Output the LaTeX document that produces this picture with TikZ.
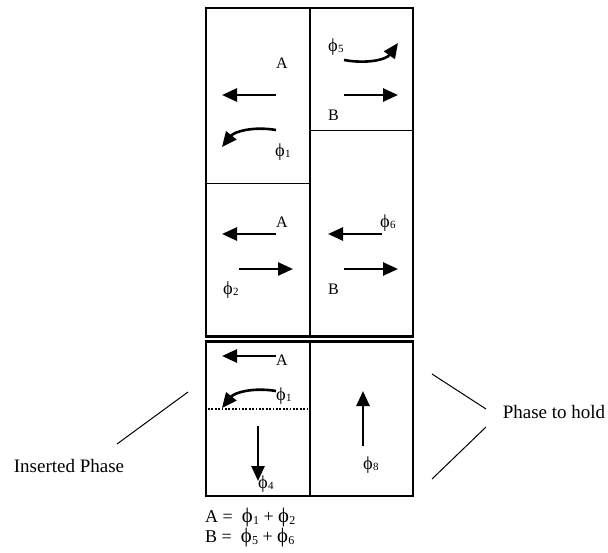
\documentclass[tikz,border=0pt]{standalone}
\usepackage{fontspec}
\usepackage{graphicx}
\setmainfont{Liberation Serif}
\usetikzlibrary{arrows.meta}
\newcommand\phs[1]{\scalebox{1.15}{ϕ}\kern0.3pt\raisebox{-0.2ex}{\fontsize{11}{11}\selectfont #1}}
\newcommand\phf[1]{\scalebox{1.15}{ϕ}\kern0.3pt\raisebox{-0.2ex}{\fontsize{12}{12}\selectfont #1}}
\begin{document}
\begin{tikzpicture}[x=1pt,y=-1pt,
  frame/.style={line width=2.6pt},
  sepline/.style={line width=1pt},
  arr/.style={line width=2.6pt,-{Triangle[length=15pt,width=13pt]}},
  lab/.style={font=\fontsize{16}{16}\selectfont,inner sep=0pt,anchor=west},
  big/.style={font=\fontsize{19}{19}\selectfont,inner sep=0pt},
  formula/.style={font=\fontsize{18}{18}\selectfont,inner sep=0pt,anchor=west},
  lead/.style={line width=1pt},
  dotline/.style={line width=2pt,dash pattern=on 1.7pt off 1.7pt}]
\useasboundingbox (0,0) rectangle (608,552);
% frames
\draw[frame] (206,8) rectangle (413,336.5);
\draw[frame] (310,8) -- (310,336.5);
\draw[frame] (206,341.5) rectangle (413,496);
\draw[frame] (310,341.5) -- (310,496);
\draw[sepline] (206,183) -- (310,183);
\draw[sepline] (310,130) -- (413,130);
% top-left box
\coordinate (a1s) at (276,95); \coordinate (a1e) at (222,95);
\draw[arr] (a1s) -- (a1e);
\coordinate (c1s) at (276,130); \coordinate (c1e) at (222,147);
\draw[arr] (c1s) .. controls (252,126) and (234,132) .. (c1e);
\node[lab] (A1) at (276,63) {A};
\node[lab] (p1) at (275,152) {\phs{1}};
% top-right box
\coordinate (c5s) at (344,60); \coordinate (c5e) at (398,43);
\draw[arr] (c5s) .. controls (366,64) and (386,60) .. (c5e);
\coordinate (a5s) at (344,95); \coordinate (a5e) at (398,95);
\draw[arr] (a5s) -- (a5e);
\node[lab] (p5) at (328,47) {\phs{5}};
\node[lab] (B1) at (328,115) {B};
% second left box
\coordinate (a2s) at (276,234); \coordinate (a2e) at (222,234);
\draw[arr] (a2s) -- (a2e);
\coordinate (a3s) at (239,269); \coordinate (a3e) at (293,269);
\draw[arr] (a3s) -- (a3e);
\node[lab] (A2) at (276,222) {A};
\node[lab] (p2) at (223,290) {\phs{2}};
% second right box
\coordinate (a6s) at (382,234); \coordinate (a6e) at (328,234);
\draw[arr] (a6s) -- (a6e);
\coordinate (a7s) at (344,269); \coordinate (a7e) at (398,269);
\draw[arr] (a7s) -- (a7e);
\node[lab] (p6) at (380,223) {\phs{6}};
\node[lab] (B2) at (328,289) {B};
% bottom left box
\coordinate (b1s) at (276,356); \coordinate (b1e) at (222,356);
\draw[arr] (b1s) -- (b1e);
\node[lab] (A3) at (276,360) {A};
\coordinate (b2s) at (276,391); \coordinate (b2e) at (222,408);
\draw[arr] (b2s) .. controls (252,387) and (234,393) .. (b2e);
\node[lab] (p1b) at (276,396) {\phs{1}};
\coordinate (d1) at (208,409); \coordinate (d2) at (310,409);
\draw[dotline] (d1) -- (d2);
\coordinate (b4s) at (258,426); \coordinate (b4e) at (258,481);
\draw[arr] (b4s) -- (b4e);
\node[lab] (p4) at (258,484) {\phs{4}};
% bottom right box
\coordinate (b8s) at (363,446); \coordinate (b8e) at (363,391);
\draw[arr] (b8s) -- (b8e);
\node[lab] (p8) at (363,465) {\phs{8}};
% formulas
\node[formula] (fA) at (205,518) {A = \ \phf{1} + \phf{2}};
\node[formula] (fB) at (205,538) {B = \ \phf{5} + \phf{6}};
% side labels
\node[big] (ins) at (69,466) {Inserted Phase};
\coordinate (l1a) at (188,392); \coordinate (l1b) at (117,444);
\draw[lead] (l1a) -- (l1b);
\node[big] (hold) at (554,412) {Phase to hold};
\coordinate (h1a) at (432,374); \coordinate (h1b) at (486,409);
\coordinate (h2a) at (486,427); \coordinate (h2b) at (432,479);
\draw[lead] (h1a) -- (h1b);
\draw[lead] (h2a) -- (h2b);
\end{tikzpicture}
\end{document}
